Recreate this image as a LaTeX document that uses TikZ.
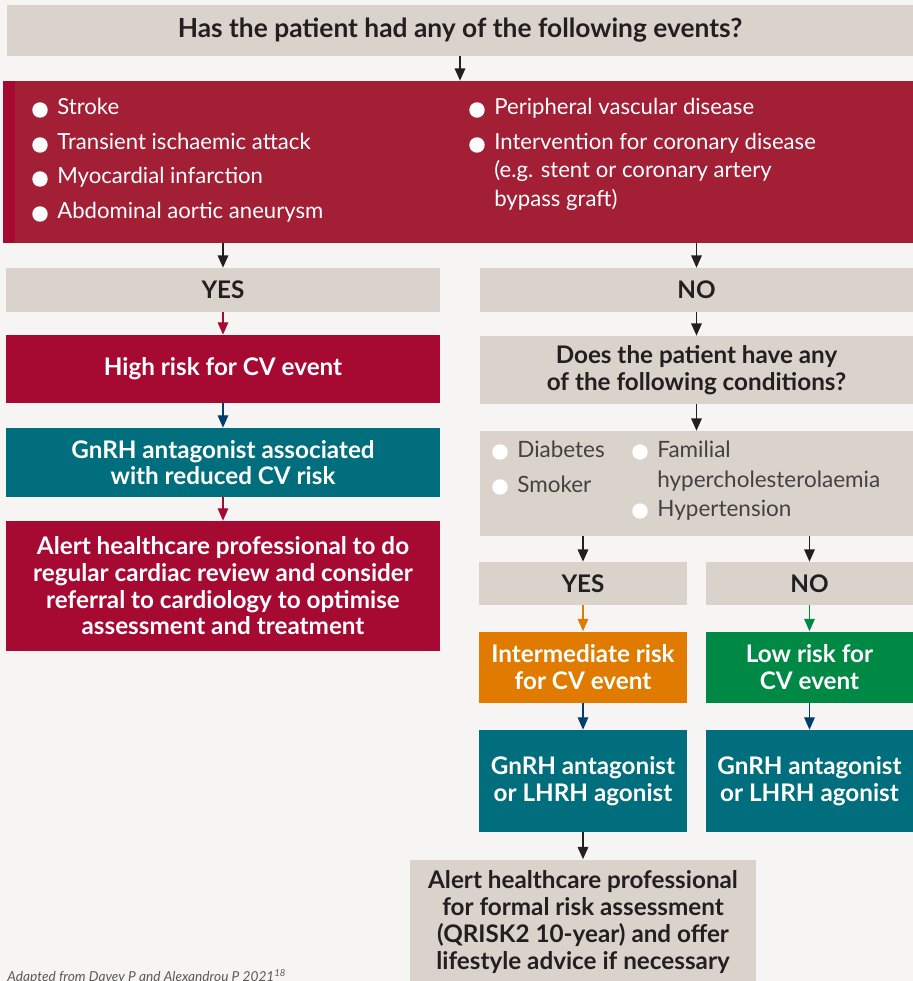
\documentclass[tikz,border=0pt]{standalone}
\usepackage{fontspec}
\setmainfont{Lato}
\definecolor{flow_bg}{RGB}{246, 245, 243}
\definecolor{flow_beige}{RGB}{217, 211, 204}
\definecolor{flow_event}{RGB}{162, 31, 53}
\definecolor{flow_crimson}{RGB}{166, 10, 51}
\definecolor{flow_teal}{RGB}{0, 110, 125}
\definecolor{flow_navy}{RGB}{0, 62, 107}
\definecolor{flow_orange}{RGB}{224, 123, 0}
\definecolor{flow_green}{RGB}{0, 137, 69}
\definecolor{flow_text}{RGB}{35, 31, 32}
\definecolor{flow_note}{RGB}{90, 90, 90}
\usepackage{tikz}
\usetikzlibrary{arrows.meta, positioning}

\begin{document}
\begin{tikzpicture}[x=0.02cm, y=-0.02cm,
    box/.style={rectangle, inner sep=0pt, align=center,
      font=\fontsize{13.8}{15.2}\selectfont\bfseries},
    bullettext/.style={anchor=mid west, inner sep=0pt,
      font=\fontsize{12.6}{16.2}\selectfont},
    condtext/.style={anchor=mid west, inner sep=0pt, text=flow_text!85,
      font=\fontsize{12.8}{17}\selectfont},
    flowarrow/.style={-{Triangle[length=7pt, width=6pt]}, line width=0.9pt, flow_text},
    colarrow/.style={-{Triangle[length=7pt, width=6pt]}, line width=0.7pt}]

        % Background / page size
        \fill[flow_bg] (0,0) rectangle (913,981);
        \useasboundingbox (0,0) rectangle (913,981);

        % --- Question ---
        \node[box, fill=flow_beige, text=flow_text, font=\fontsize{15}{17}\selectfont\bfseries,
          minimum width=18.12cm, minimum height=1.02cm] (title) at (460,30.5)
          {Has the patient had any of the following events?};

        % Events box (dark red)
        \node[box, fill=flow_event, minimum width=18.2cm, minimum height=3.24cm] (events) at (458,162) {};
        \fill[flow_crimson] (3,81) rectangle (15,243);

        % Bullets, left column
        \foreach \y/\txt [count=\k] in {110/Stroke, 145/Transient ischaemic attack,
            179/Myocardial infarction, 214/Abdominal aortic aneurysm} {
          \fill[white] (40,\y) circle (4.4pt);
          \node[bullettext, text=white] (evL\k) at (57,\y) {\txt};
        }
        % Bullets, right column
        \fill[white] (477,110) circle (4.4pt);
        \node[bullettext, text=white] (evR1) at (494,110) {Peripheral vascular disease};
        \fill[white] (477,145) circle (4.4pt);
        \node[bullettext, text=white] (evR2) at (494,145)
          {\begin{tabular}[t]{@{}l@{}}Intervention for coronary disease\\(e.g. stent or coronary artery\\bypass graft)\end{tabular}};

        % --- Left branch: YES ---
        \node[box, fill=flow_beige, text=flow_text, minimum width=8.68cm, minimum height=0.88cm] (yesA) at (223,290) {YES};
        \node[box, fill=flow_crimson, text=white, minimum width=8.68cm, minimum height=1.36cm] (high) at (223,369)
          {High risk for CV event};
        \node[box, fill=flow_teal, text=white, minimum width=8.68cm, minimum height=1.38cm] (gnrhA) at (223,462.5)
          {GnRH antagonist associated\\with reduced CV risk};
        \node[box, fill=flow_crimson, text=white, minimum width=8.68cm, minimum height=2.6cm] (alertA) at (223,586)
          {Alert healthcare professional to do\\regular cardiac review and consider\\referral to cardiology to optimise\\assessment and treatment};

        % --- Right branch: NO ---
        \node[box, fill=flow_beige, text=flow_text, minimum width=8.66cm, minimum height=0.88cm] (noA) at (696.5,290) {NO};
        \node[box, fill=flow_beige, text=flow_text, minimum width=8.66cm, minimum height=1.36cm] (question) at (696.5,370)
          {Does the patient have any\\of the following conditions?};
        \node[box, fill=flow_beige, minimum width=8.66cm, minimum height=2.1cm] (conds) at (696.5,483.5) {};

        % Conditions
        \fill[white] (500,452) circle (4.4pt);
        \node[condtext] (cdL1) at (517,453) {Diabetes};
        \fill[white] (500,487) circle (4.4pt);
        \node[condtext] (cdL2) at (517,488) {Smoker};
        \fill[white] (640,452) circle (4.4pt);
        \node[condtext] (cdR1) at (657,453)
          {\begin{tabular}[t]{@{}l@{}}Familial\\hypercholesterolaemia\end{tabular}};
        \fill[white] (640,511) circle (4.4pt);
        \node[condtext] (cdR2) at (657,512) {Hypertension};

        % Second split
        \node[box, fill=flow_beige, text=flow_text, minimum width=4.16cm, minimum height=0.86cm] (yesB) at (583,583.5) {YES};
        \node[box, fill=flow_beige, text=flow_text, minimum width=4.14cm, minimum height=0.86cm] (noB) at (809.5,583.5) {NO};
        \node[box, fill=flow_orange, text=white, minimum width=4.16cm, minimum height=1.42cm] (inter) at (583,667)
          {Intermediate risk\\for CV event};
        \node[box, fill=flow_green, text=white, minimum width=4.14cm, minimum height=1.42cm] (low) at (809.5,667)
          {Low risk for\\CV event};
        \node[box, fill=flow_teal, text=white, minimum width=4.16cm, minimum height=2.04cm] (gnrhB) at (583,781)
          {GnRH antagonist\\or LHRH agonist};
        \node[box, fill=flow_teal, text=white, minimum width=4.14cm, minimum height=2.04cm] (gnrhC) at (809.5,781)
          {GnRH antagonist\\or LHRH agonist};
        \node[box, fill=flow_beige, text=flow_text, minimum width=6.92cm, minimum height=2.5cm] (alertB) at (583,922)
          {Alert healthcare professional\\for formal risk assessment\\(QRISK2 10-year) and offer\\lifestyle advice if necessary};

        % Arrows
        \draw[flowarrow] (title.south) -- (events.north -| title.south);
        \draw[flowarrow] (events.south -| yesA.north) -- (yesA.north);
        \draw[flowarrow] (events.south -| noA.north) -- (noA.north);
        \draw[colarrow, flow_crimson] (yesA) -- (high);
        \draw[colarrow, flow_navy] (high) -- (gnrhA);
        \draw[colarrow, flow_crimson] (gnrhA) -- (alertA);
        \draw[flowarrow] (noA) -- (question);
        \draw[flowarrow] (question) -- (conds);
        \draw[flowarrow] (conds.south -| yesB.north) -- (yesB.north);
        \draw[flowarrow] (conds.south -| noB.north) -- (noB.north);
        \draw[colarrow, flow_orange] (yesB) -- (inter);
        \draw[colarrow, flow_green] (noB) -- (low);
        \draw[colarrow, flow_navy] (inter) -- (gnrhB);
        \draw[colarrow, flow_navy] (low) -- (gnrhC);
        \draw[flowarrow] (gnrhB) -- (gnrhB.south |- alertB.north);

        % Source note
        \node[anchor=base west, inner sep=0pt, text=flow_note, font=\fontsize{7.8}{9}\selectfont\itshape] (note) at (7,981)
          {Adapted from Davey P and Alexandrou P 2021\textsuperscript{18}};
      \end{tikzpicture}
\end{document}
